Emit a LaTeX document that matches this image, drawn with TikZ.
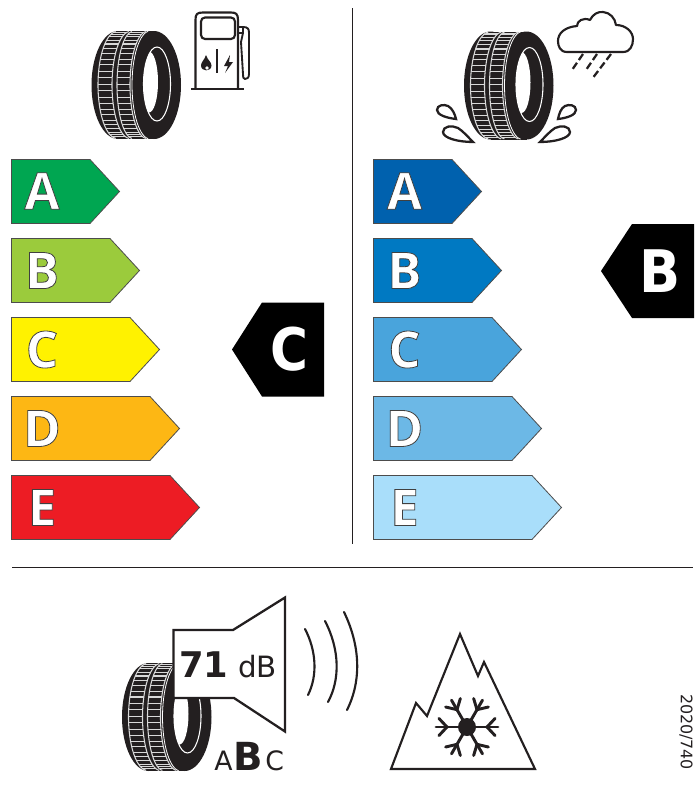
\documentclass[tikz,border=0pt]{standalone}
\usepackage{fontspec}
\setmainfont{DejaVu Sans}
\newfontfamily\lett{Open Sans}
\definecolor{gA}{HTML}{00A651}\definecolor{gB}{HTML}{9BCB3C}\definecolor{gC}{HTML}{FFF200}\definecolor{gD}{HTML}{FDB714}\definecolor{gE}{HTML}{ED1C24}
\definecolor{wA}{HTML}{0061AE}\definecolor{wB}{HTML}{0079C2}\definecolor{wC}{HTML}{49A4DC}\definecolor{wD}{HTML}{6CB8E6}\definecolor{wE}{HTML}{A9DEFA}
\definecolor{ink}{HTML}{231F20}
\newcommand{\outl}[1]{\special{pdf:code q 2 Tr 0.6 w 0.25 0.25 0.25 RG}#1\special{pdf:code 0 Tr Q}}
\newcommand{\tyre}[2]{%
 \begin{scope}[shift={(#1,#2)}]
  \fill[ink] (-18,-54) rectangle (18,54);
  \fill[ink] (-18,0) ellipse [x radius=26.5,y radius=54];
  \fill[ink] (18,0) ellipse [x radius=27,y radius=54];
  % sidewall line
  \draw[white,line width=.6pt] plot[domain=-84:84,samples=30] ({14-18*cos(\x)},{54*sin(\x)});
  % tread bands
  \foreach \ca/\ra/\cb/\rb in {-19/19/-6/18,-3/16/11/17}{
   \draw[white!85!black,line width=.8pt] plot[domain=-86:86,samples=30] ({\ca-\ra*cos(\x)},{53.5*sin(\x)});
   \draw[white!85!black,line width=.8pt] plot[domain=-86:86,samples=30] ({\cb-\rb*cos(\x)},{53.5*sin(\x)});
   \foreach \t in {-78,-71,...,78}{
    \draw[white!85!black,line width=.8pt] ({\ca-\ra*cos(\t)},{53.5*sin(\t)}) -- ({\cb-\rb*cos(\t)},{53.5*sin(\t)});
   }
  }
  % rim
  \draw[white,line width=.8pt] (21,-1) ellipse [x radius=13.5,y radius=37];
  \begin{scope}
   \clip (21,-1) ellipse [x radius=13.5,y radius=37];
   \fill[white] (13,-3) ellipse [x radius=9,y radius=30.5];
  \end{scope}
 \end{scope}}
\tikzset{
 sep/.style={draw=ink,line width=1.05pt},
 glyph/.style={inner sep=0pt,anchor=center,text=white,font=\lett\bfseries\fontsize{38}{38}\selectfont},
 rate/.style={draw=black!70,line width=.6pt},
 marker/.style={fill=black},
 markertxt/.style={inner sep=0pt,anchor=center,text=white,font=\fontsize{44}{44}\selectfont\bfseries},
 icon/.style={draw=ink,line width=1.6pt,line join=round,line cap=round},
 drop/.style={draw=ink,line width=1.7pt,fill=white,line join=miter}
}
\begin{document}
\begin{tikzpicture}[x=.75pt,y=-.75pt]
\useasboundingbox (0,0) rectangle (695,797);
\fill[white] (0,0) rectangle (695,797);
% separators
\coordinate (vt) at (352.5,8); \coordinate (vb) at (352.5,544);
\coordinate (hl) at (12,567.5); \coordinate (hr) at (693,567.5);
\draw[sep] (vt) -- (vb);
\draw[sep] (hl) -- (hr);
% left scale
\foreach \n/\c/\w/\yy/\ty in {A/gA/0/159.5/191,B/gB/20/238.5/270.5,C/gC/40/317.5/349.5,D/gD/60/396.5/428.5,E/gE/80/475.5/507.5}{
 \draw[rate,fill=\c] (11.5,\yy) -- ({90+\w},\yy) -- ({119.5+\w},{\yy+32}) -- ({90+\w},{\yy+64}) -- (11.5,{\yy+64}) -- cycle;
 \node[glyph] (l\n) at (42,\ty) {\outl{\n}};
}
% right scale
\foreach \n/\c/\w/\yy/\ty in {A/wA/0/159.5/191,B/wB/20/238.5/270.5,C/wC/40/317.5/349.5,D/wD/60/396.5/428.5,E/wE/80/475.5/507.5}{
 \draw[rate,fill=\c] (373.5,\yy) -- ({452+\w},\yy) -- ({481.5+\w},{\yy+32}) -- ({452+\w},{\yy+64}) -- (373.5,{\yy+64}) -- cycle;
 \node[glyph] (r\n) at (404.5,\ty) {\outl{\n}};
}
% markers
\fill[marker] (324,302.5) -- (324,396.5) -- (262,396.5) -- (232,349.5) -- (262,302.5) -- cycle;
\node[markertxt,xscale=.88] (mc) at (289.5,349.5) {C};
\fill[marker] (694,224) -- (694,318) -- (632,318) -- (601,271) -- (632,224) -- cycle;
\node[markertxt,xscale=.92] (mb) at (660,271) {B};
% tyres
\tyre{136}{85}
\tyre{508.5}{85.5}
\tyre{166.5}{717}
% fuel pump
\draw[icon] (195.5,88) -- (195.5,20) .. controls (195.5,14) and (197,12.5) .. (203,12.5) -- (231,12.5) .. controls (236,12.5) and (238,14) .. (238,20) -- (238,88);
\draw[ink,line width=2pt] (191,89) -- (244,89);
\draw[icon,rounded corners=3pt] (201,17.5) rectangle (235,39);
\draw[icon,line width=1.3pt] (238,27) -- (243,27) -- (243,33) -- (238,33);
\draw[icon,line width=1.4pt] (243,27) .. controls (248,27) and (249,29) .. (249,33) -- (249,74) .. controls (249,78) and (247,79) .. (245,79) .. controls (243,79) and (243,77) .. (243,74) -- (241,42) -- (243,33);
\fill[ink] (206,55) .. controls (207.5,60) and (211.5,62) .. (211.5,65.5) .. controls (211.5,72) and (201,72) .. (201,65.5) .. controls (201,62) and (204.5,60) .. (206,55) -- cycle;
\fill[white] (207,68) circle (1.8);
\draw[ink,line width=1.3pt] (217,49) -- (217,73);
\fill[ink] (230,55) -- (224,66) -- (228,66) -- (225,73) -- (233,62) -- (229,62) -- cycle;
% cloud
\draw[icon,fill=white] (567,52) .. controls (560,52) and (558,46) .. (558,41) .. controls (558,33) and (565,27) .. (577,26) .. controls (577,21) and (583,17) .. (590,20) .. controls (593,14) and (598,11.5) .. (603,12) .. controls (610,12.5) and (615,18) .. (616,25) .. controls (626,25) and (633,32) .. (633,39) .. controls (633,46) and (630,52) .. (623,52) -- cycle;
\foreach \a/\b/\c/\d in {583/54/572/70,597/54/586/70,611/54/592/79}{
 \draw[ink,line width=1.7pt,dash pattern=on 5.5pt off 2.5pt] (\a,\b) -- (\c,\d);
}
% splashes
\draw[drop] (456,119) .. controls (447,118) and (437,115) .. (437,110) .. controls (437,105) and (444,104) .. (448,106) .. controls (452,108) and (455,114) .. (456,119) -- cycle;
\draw[drop] (473,142) .. controls (458,142) and (443,138) .. (443,132) .. controls (443,126) and (452,125) .. (458,128) .. controls (463,131) and (469,138) .. (473,142) -- cycle;
\draw[drop] (558,119) .. controls (567,118) and (576,115) .. (576,110) .. controls (576,105) and (569,104) .. (565,106) .. controls (561,108) and (559,114) .. (558,119) -- cycle;
\draw[drop] (540,142) .. controls (555,142) and (570,138) .. (570,132) .. controls (570,126) and (561,125) .. (555,128) .. controls (550,131) and (544,138) .. (540,142) -- cycle;
% speaker
\draw[draw=ink,line width=1.7pt,fill=white,line join=miter] (173.5,630) -- (233,630) -- (285,597.5) -- (285,731.5) -- (234,698) -- (173.5,698) -- cycle;
\node[inner sep=0pt,anchor=base west,text=ink,font=\fontsize{26.5}{26.5}\selectfont\bfseries] (db1) at (179,677) {71};
\node[inner sep=0pt,anchor=base west,text=ink,font=\fontsize{22}{22}\selectfont] (db2) at (238,677) {dB};
\node[inner sep=0pt,anchor=base west,text=ink,font=\fontsize{20}{20}\selectfont] (ca) at (214,770) {A};
\node[inner sep=0pt,anchor=base west,text=ink,font=\fontsize{29}{29}\selectfont\bfseries] (cb) at (233,770) {B};
\node[inner sep=0pt,anchor=base west,text=ink,font=\fontsize{20}{20}\selectfont] (cc) at (265,770) {C};
% sound waves
\draw[icon] (305,629) .. controls (316,650) and (318,675) .. (308,695);
\draw[icon] (325,621) .. controls (340,650) and (340,680) .. (328,702);
\draw[icon] (344,612) .. controls (360,645) and (362,680) .. (347,710);
% mountain
\draw[draw=ink,line width=1.6pt,line join=miter] (391,769) -- (416,703) -- (427,716) -- (460,634) -- (478,676) -- (484,662) -- (535,769) -- cycle;
\begin{scope}[shift={(467,727)}]
 \fill[ink] (0,0) circle (9);
 \foreach \r in {0,60,...,300}{
  \begin{scope}[rotate=\r]
   \draw[ink,line width=2.2pt,line cap=round] (0,0) -- (31,0);
   \draw[ink,line width=2.2pt,line cap=round] (20,0) -- (28,-8.5);
   \draw[ink,line width=2.2pt,line cap=round] (20,0) -- (28,8.5);
  \end{scope}
 }
\end{scope}
% regulation
\node[inner sep=0pt,rotate=-90,text=ink,font=\fontsize{11.9}{12}\selectfont] (reg) at (686,732) {2020/740};
\end{tikzpicture}
\end{document}
